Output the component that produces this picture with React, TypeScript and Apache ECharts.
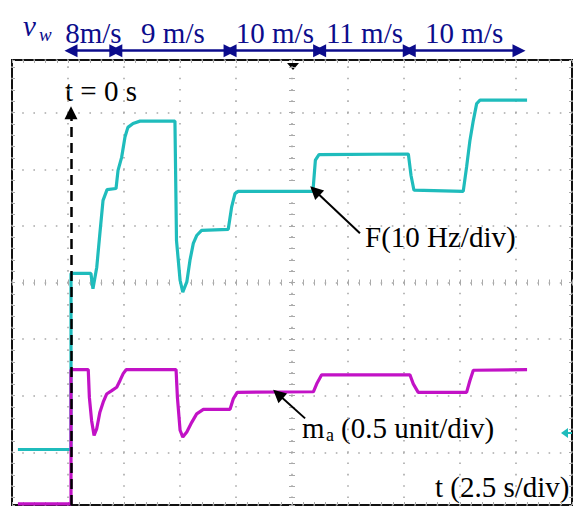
import React, { useEffect, useRef } from 'react';
import * as echarts from 'echarts';

// ---- data (time in s from the step at t = 0; level in screen divisions from centre line) ----
const fTime = [-2.37, 0, 0, 0.89, 0.98, 1.15, 1.29, 1.43, 1.61, 2.01, 2.10, 2.26, 2.41, 2.54, 2.77, 3.08, 4.64, 4.71, 4.87, 4.99, 5.17, 5.31, 5.46, 5.61, 5.83, 7.02, 7.17, 7.32, 7.46, 10.80, 10.91, 11.07, 15.06, 15.18, 15.31, 17.51, 17.66, 17.81, 17.96, 18.11, 18.26, 20.36];
const fDiv = [-2.95, -2.95, 0.16, 0.16, -0.11, 0.27, 0.87, 1.45, 1.64, 1.66, 1.98, 2.21, 2.57, 2.74, 2.81, 2.85, 2.85, 0.74, 0.04, -0.17, 0.01, 0.39, 0.69, 0.83, 0.92, 0.94, 1.33, 1.57, 1.61, 1.61, 2.16, 2.26, 2.27, 1.89, 1.63, 1.61, 2.04, 2.51, 2.86, 3.16, 3.22, 3.22];

const maTime = [-2.37, 0, 0, 0.77, 0.82, 0.92, 1.03, 1.15, 1.29, 1.44, 1.59, 1.82, 2.04, 2.19, 2.33, 2.46, 4.69, 4.75, 4.87, 4.99, 5.17, 5.39, 5.61, 5.91, 7.10, 7.25, 7.42, 10.82, 10.97, 11.19, 15.13, 15.28, 15.50, 17.66, 17.81, 17.96, 20.36];
const maDiv = [-3.91, -3.91, -1.54, -1.54, -2.03, -2.44, -2.70, -2.58, -2.29, -2.11, -1.97, -1.91, -1.85, -1.73, -1.61, -1.54, -1.54, -2.03, -2.61, -2.73, -2.64, -2.47, -2.32, -2.24, -2.24, -2.05, -1.94, -1.93, -1.79, -1.63, -1.63, -1.79, -1.94, -1.94, -1.73, -1.55, -1.54];

// wind-speed segments (s)
const windEdges = [0, 2.0, 7.1, 11.1, 15.1, 20.0];
const windLabels = ['8m/s', '9 m/s', '10 m/s', '11 m/s', '10 m/s'];

// annotation arrows [from, to] in (s, div)
const fArrow = [[12.9, 0.87], [10.89, 1.62]];
const maArrow = [[10.45, -2.4], [9.24, -1.97]];
const t0Arrow = [[0, -3.93], [0, 3.0]];

// screen window
const T_MIN = -2.634;
const T_MAX = 22.366;
const DIV_MIN = -3.93;
const DIV_MAX = 3.93;

const CYAN = '#1fbcbc';
const MAGENTA = '#c212c6';
const NAVY = '#0c0c8c';
const GRID_C = '#a9a9a9';
const SERIF = 'Liberation Serif';

const zip = (a: number[], b: number[]) => a.map((v, i) => [v, b[i]]);

function frameX(position: string, inside: boolean, onZero: boolean, split: boolean) {
  return {
    type: 'value', gridIndex: 0, min: -5, max: 5, interval: 1, position,
    axisLine: { show: false, onZero, onZeroAxisIndex: 0 },
    axisTick: { show: true, inside, length: 3, lineStyle: { color: GRID_C, width: 1 } },
    minorTick: { show: true, splitNumber: 5, length: 3, lineStyle: { color: GRID_C, width: 1 } },
    axisLabel: { show: false },
    splitLine: { show: split, lineStyle: { color: GRID_C, width: 1.6, type: [1.6, 9.72], dashOffset: 5.2 } },
    minorSplitLine: { show: false },
  };
}
function frameY(position: string, inside: boolean, onZero: boolean, split: boolean) {
  return {
    type: 'value', gridIndex: 0, min: DIV_MIN, max: DIV_MAX, splitNumber: 8, position,
    axisLine: { show: false, onZero, onZeroAxisIndex: 1 },
    axisTick: { show: true, inside, length: 3, lineStyle: { color: GRID_C, width: 1 } },
    minorTick: { show: true, splitNumber: 5, length: 3, lineStyle: { color: GRID_C, width: 1 } },
    axisLabel: { show: false },
    splitLine: { show: split, lineStyle: { color: GRID_C, width: 1.6, type: [1.6, 9.6], dashOffset: 0.8 } },
    minorSplitLine: { show: false },
  };
}

function txt(text: string, x: number, baseline: number, size: number, extra: any = {}) {
  const style = extra.fontStyle || 'normal';
  return {
    type: 'text', x, y: baseline - size * 0.3375, silent: true,
    style: {
      text, font: `${style} normal ${size}px ${SERIF}`, fontSize: size, fontFamily: SERIF,
      fill: '#000', align: 'left', verticalAlign: 'middle', ...extra,
    },
  };
}

export default function App() {
  const ref = useRef<HTMLDivElement>(null);
  useEffect(() => {
    const chart = echarts.init(ref.current!, null, { renderer: 'svg' });
    const option: any = {
      animation: false,
      backgroundColor: '#fff',
      textStyle: { fontFamily: SERIF },
      grid: [
        { left: 12, top: 60, width: 560, height: 445, show: true, borderColor: '#111', borderWidth: 2, outerBoundsMode: 'none' },
        { left: 12, top: 30, width: 560, height: 30, show: false, outerBoundsMode: 'none' },
      ],
      xAxis: [
        { type: 'value', gridIndex: 0, min: T_MIN, max: T_MAX, show: false, axisLine: { onZero: false } },
        frameX('bottom', true, false, true),
        frameX('top', true, false, false),
        frameX('bottom', true, true, false),
        frameX('bottom', false, true, false),
        { type: 'value', gridIndex: 1, min: T_MIN, max: T_MAX, show: false, axisLine: { onZero: false } },
      ],
      yAxis: [
        frameY('left', true, false, true),
        frameY('right', true, false, false),
        frameY('left', true, true, false),
        frameY('left', false, true, false),
        { type: 'value', gridIndex: 1, min: 0, max: 1, show: false, axisLine: { onZero: false } },
      ],
      series: [
        {
          type: 'line', name: 'F', xAxisIndex: 0, yAxisIndex: 0, data: zip(fTime, fDiv),
          showSymbol: false, symbol: 'none', lineStyle: { color: CYAN, width: 3.2 }, itemStyle: { color: CYAN },
          silent: true, z: 3,
          markLine: {
            silent: true, symbol: ['none', 'triangle'], symbolSize: 13,
            label: { show: false }, emphasis: { disabled: true },
            lineStyle: { color: '#000', width: 2, type: 'solid' },
            data: [
              [{ coord: fArrow[0] }, { coord: fArrow[1] }],
              [
                { coord: t0Arrow[0], lineStyle: { color: '#000', width: 2.5, type: [10, 6] } },
                { coord: t0Arrow[1], lineStyle: { color: '#000', width: 2.5, type: [10, 6] } },
              ],
            ],
          },
        },
        {
          type: 'line', name: 'ma', xAxisIndex: 0, yAxisIndex: 0, data: zip(maTime, maDiv),
          showSymbol: false, symbol: 'none', lineStyle: { color: MAGENTA, width: 3.2 }, itemStyle: { color: MAGENTA },
          silent: true, z: 3,
          markLine: {
            silent: true, symbol: ['none', 'triangle'], symbolSize: 13,
            label: { show: false }, emphasis: { disabled: true },
            lineStyle: { color: '#000', width: 2, type: 'solid' },
            data: [[{ coord: maArrow[0] }, { coord: maArrow[1] }]],
          },
        },
        {
          type: 'line', name: 'wind', xAxisIndex: 5, yAxisIndex: 4, data: [], silent: true,
          markLine: {
            silent: true, symbol: ['triangle', 'triangle'], symbolSize: 13,
            emphasis: { disabled: true },
            lineStyle: { color: NAVY, width: 2.5, type: 'solid' },
            label: { show: true, position: 'middle', formatter: '{b}', color: NAVY, fontSize: 29, fontFamily: SERIF, distance: 3 },
            data: windLabels.map((lab, i) => [
              { name: lab, coord: [windEdges[i], 0.31] },
              { coord: [windEdges[i + 1], 0.31] },
            ]),
          },
        },
      ],
      graphic: [
        txt('v', 23, 36, 29, { fill: NAVY, fontStyle: 'italic' }),
        txt('w', 39, 41, 19, { fill: NAVY, fontStyle: 'italic' }),
        txt('t = 0 s', 65, 101, 29),
        txt('F(10 Hz/div)', 365, 247, 29),
        txt('m', 302, 438, 29),
        txt('a', 326, 441, 18),
        txt('(0.5 unit/div)', 341, 438, 29),
        txt('t (2.5 s/div)', 435, 497, 29),
        { type: 'polygon', silent: true, shape: { points: [[287, 63], [299, 63], [293, 70]] }, style: { fill: '#000' } },
        { type: 'polygon', silent: true, shape: { points: [[561, 433], [568, 428], [568, 438]] }, style: { fill: CYAN } },
        { type: 'rect', silent: true, shape: { x: 567, y: 432, width: 5, height: 2 }, style: { fill: CYAN } },
      ],
    };
    chart.setOption(option);
    return () => chart.dispose();
  }, []);
  return <div ref={ref} style={{ position: 'fixed', left: 0, top: 0, width: 574, height: 507, background: '#fff' }} />;
}
